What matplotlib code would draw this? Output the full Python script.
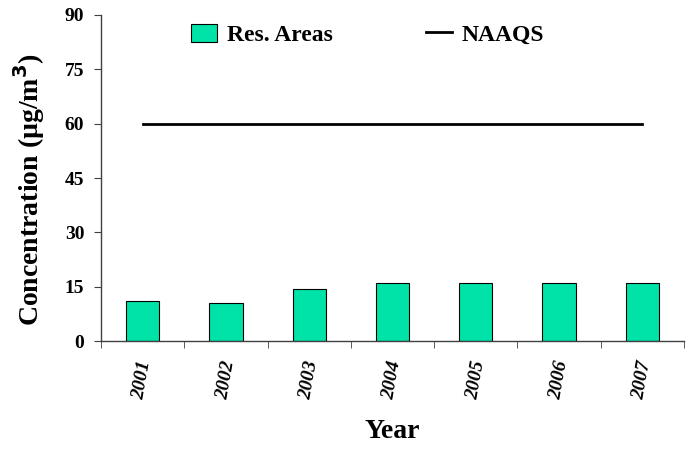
import matplotlib.pyplot as plt
import numpy as np

years = ['2001', '2002', '2003', '2004', '2005', '2006', '2007']
res_areas = [11.1, 10.4, 14.3, 16.0, 16.0, 16.0, 16.0]
naaqs = [60, 60, 60, 60, 60, 60, 60]
y_ticks = [0, 15, 30, 45, 60, 75, 90]

plt.rcParams['font.family'] = ['Liberation Serif', 'DejaVu Serif']
plt.rcParams['font.weight'] = 'bold'

fig = plt.figure(figsize=(6.94, 4.49), dpi=100)
ax = fig.add_axes([0.1455, 0.2405, 0.8401, 0.7261])

x = np.arange(len(years))
bars = ax.bar(x, res_areas, width=0.4, color='#00E3A8', edgecolor='black',
              linewidth=0.8, label='Res. Areas', zorder=2)
line, = ax.plot(x, naaqs, color='black', linewidth=2, label='NAAQS', zorder=3)

ax.set_xlim(-0.5, len(years) - 0.5)
ax.set_ylim(0, 90)
ax.set_yticks(y_ticks)
ax.set_yticklabels([str(v) for v in y_ticks], fontsize=14, fontweight='bold')

ax.set_xticks(x)
ax.set_xticklabels(years, fontsize=14, fontweight='bold', style='italic',
                   rotation=80, ha='center', va='top')
ax.tick_params(axis='x', which='major', length=0, pad=13)
ax.set_xticks(np.arange(-0.5, len(years)), minor=True)
ax.tick_params(axis='x', which='minor', length=5, direction='out', color='#404040')
ax.tick_params(axis='y', length=5, direction='out', color='#404040', pad=7)

for side in ['top', 'right']:
    ax.spines[side].set_visible(False)
for side in ['left', 'bottom']:
    ax.spines[side].set_color('#404040')
    ax.spines[side].set_linewidth(1)

ax.set_ylabel('Concentration (\u00b5g/m$^\\mathbf{3}$)', fontsize=20, fontweight='bold')
ax.yaxis.set_label_coords(-0.093, 0.463)
ax.set_xlabel('Year', fontsize=20, fontweight='bold')
ax.xaxis.set_label_coords(0.5, -0.238)

ax.legend([bars, line], ['Res. Areas', 'NAAQS'], loc='center left',
          bbox_to_anchor=(0.155, 0.939), ncol=2, frameon=False,
          fontsize=17, handlelength=1.1, handleheight=0.8, columnspacing=3.95,
          handletextpad=0.4, borderpad=0, borderaxespad=0)

fig.savefig('out.png', dpi=100)
